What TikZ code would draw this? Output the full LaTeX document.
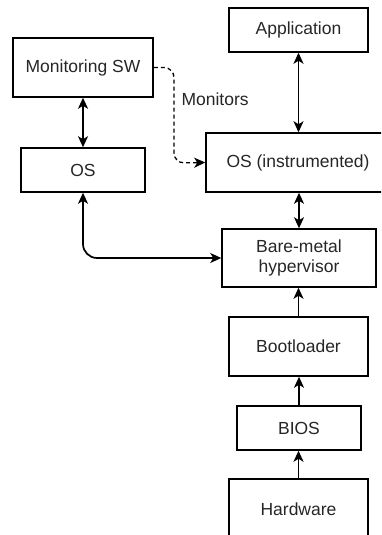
\documentclass[tikz,border=0pt]{standalone}
\usepackage{fontspec}
\setmainfont{Liberation Sans}
\usetikzlibrary{arrows.meta}
\definecolor{txt}{HTML}{262626}
\begin{document}
\begin{tikzpicture}[x=1pt,y=-1pt,
  box/.style={draw=black, line width=1.5pt, rectangle, inner sep=0pt,
    align=center, text=txt, font=\fontsize{17.5}{20}\selectfont},
  link/.style={draw=black, line width=1.7pt},
  tip/.tip={Stealth[length=11pt,width=10pt,inset=3pt]}]
\useasboundingbox (0,0) rectangle (381,535);
\begin{scope}
\clip (0,0) rectangle (381,535);
\node[box, minimum width=139pt, minimum height=44pt] (app)  at (298.5,30) {Application};
\node[box, minimum width=140pt, minimum height=59pt] (mon)  at (83,67.5) {Monitoring SW};
\node[box, minimum width=124pt, minimum height=44pt] (os)   at (83,170) {OS};
\node[box, minimum width=184pt, minimum height=59pt] (osi)  at (298,162.5) {OS (instrumented)};
\node[box, minimum width=154pt, minimum height=58pt] (hyp)  at (299,258) {Bare-metal\\hypervisor};
\node[box, minimum width=139pt, minimum height=59pt] (boot) at (298.5,346.5) {Bootloader};
\node[box, minimum width=124pt, minimum height=44pt] (bios) at (299,428) {BIOS};
\node[box, minimum width=139pt, minimum height=60pt] (hw)   at (298.5,509) {Hardware};
\end{scope}

% two-way links
\draw[link, {tip}-{tip}] (app.south) -- (app.south |- osi.north);
\draw[link, {tip}-{tip}] (mon.south) -- (os.north);
\draw[link, {tip}-{tip}] (osi.south -| hyp.north) -- (hyp.north);
\draw[link, {tip}-{tip}, rounded corners=14pt] (os.south) |- (hyp.west);

% boot chain
\draw[link, -{tip}] (boot.north) -- (boot.north |- hyp.south);
\draw[link, -{tip}] (bios.north) -- (bios.north |- boot.south);
\draw[link, -{tip}] (hw.north) -- (hw.north |- bios.south);

% monitoring path
\coordinate (bend) at (174,163);
\draw[link, line width=1.3pt, dash pattern=on 4pt off 3pt, rounded corners=10pt, -{tip}]
  (mon.east) -| (bend) -- (osi.west);
\node[text=txt, font=\fontsize{17.5}{20}\selectfont, anchor=west] (lbl) at (178,99) {Monitors};
\end{tikzpicture}
\end{document}
